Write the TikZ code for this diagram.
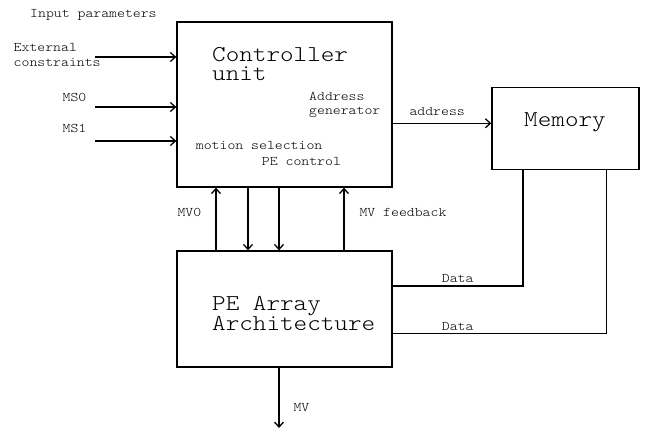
\documentclass[tikz,border=0pt]{standalone}
\usepackage{fontspec}
\setmonofont[FakeStretch=1.14]{Latin Modern Mono Light}
\usetikzlibrary{arrows.meta}

\tikzset{
  block/.style={draw, line width=1.3pt, rectangle, inner sep=0pt},
  wire/.style={line width=1.3pt},
  small/.style={font=\ttfamily\fontsize{13.2}{14.5}\selectfont, inner sep=0pt},
  big/.style={font=\ttfamily\fontsize{22.7}{18}\selectfont, inner sep=0pt},
}

\begin{document}
\begin{tikzpicture}[x=1pt,y=-1pt,>={Straight Barb[length=5pt,width=9pt]}]
\useasboundingbox (0,0) rectangle (645,432);

% the three blocks
\node[block, minimum width=215pt, minimum height=165pt] (ctrl) at (284.5,104.5) {};
\node[block, minimum width=215pt, minimum height=116pt] (pe) at (284.5,309) {};
\node[block, minimum width=147pt, minimum height=82pt] (mem) at (565.5,128.3) {};

% texts inside the blocks
\node[big, anchor=north west, align=left, font=\ttfamily\fontsize{22.7}{19}\selectfont] (ctrltxt) at (212,47.5) {Controller\\unit};
\node[small, anchor=north west, align=left] (addrgen) at (309,91.8) {Address\\generator};
\node[small, anchor=base west] (motsel) at (195.7,149.3) {motion selection};
\node[small, anchor=base west] (pectl) at (261.7,165.7) {PE control};
\node[big, anchor=north west, align=left, font=\ttfamily\fontsize{22.7}{19.5}\selectfont] (petxt) at (212,296.5) {PE Array\\Architecture};
\node[big, anchor=base] (memtxt) at (565,126.7) {Memory};

% input parameters
\node[small, anchor=base west] (inpar) at (30,17.5) {Input parameters};
\node[small, anchor=north west, align=left, font=\ttfamily\fontsize{13.2}{15.7}\selectfont] (extlbl) at (13.5,42.8) {External\\constraints};
\node[small, anchor=base east] (ms0lbl) at (86.5,101) {MS0};
\node[small, anchor=base east] (ms1lbl) at (86.5,132.7) {MS1};
\coordinate (ext) at (95,57);
\coordinate (ms0) at (95,107);
\coordinate (ms1) at (95,141);
\draw[wire,->] (ext) -- (ext -| ctrl.west);
\draw[wire,->] (ms0) -- (ms0 -| ctrl.west);
\draw[wire,->] (ms1) -- (ms1 -| ctrl.west);

% address bus to memory
\coordinate (addr) at (392,123.3);
\draw[wire,->] (addr) -- (addr -| mem.west);
\node[small, anchor=base west] (addrlbl) at (409.3,115.7) {address};

% links between controller and PE array
\coordinate (mv0x) at (216,0);
\coordinate (ctla) at (248,0);
\coordinate (ctlb) at (279,0);
\coordinate (fbx) at (344,0);
\draw[wire,->] (mv0x |- pe.north) -- (mv0x |- ctrl.south);
\draw[wire,->] (ctla |- ctrl.south) -- (ctla |- pe.north);
\draw[wire,->] (ctlb |- ctrl.south) -- (ctlb |- pe.north);
\draw[wire,->] (fbx |- pe.north) -- (fbx |- ctrl.south);
\node[small, anchor=base west] (mv0lbl) at (177.3,216) {MV0};
\node[small, anchor=base west] (fblbl) at (359.3,216) {MV feedback};

% data from memory
\coordinate (data1) at (392,286);
\coordinate (data2) at (392,333.3);
\draw[wire] (data1) -| ([xshift=-42.5pt]mem.south);
\draw[wire] (data2) -| ([xshift=40.8pt]mem.south);
\node[small, anchor=base west] (d1lbl) at (441.7,282) {Data};
\node[small, anchor=base west] (d2lbl) at (441.7,330) {Data};

% motion vector out
\coordinate (mvout) at (279,428);
\draw[wire,->] (mvout |- pe.south) -- (mvout);
\node[small, anchor=base west] (mvlbl) at (293.3,411.7) {MV};
\end{tikzpicture}
\end{document}
